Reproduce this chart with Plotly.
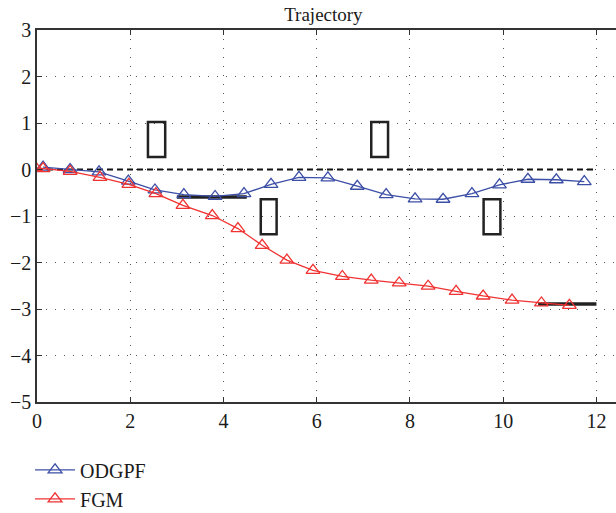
import plotly.graph_objects as go

# ---- data ----
odgpf_x = [0.13, 0.71, 1.33, 1.96, 2.53, 3.15, 3.82, 4.44, 5.02, 5.62, 6.24, 6.87, 7.49, 8.11, 8.71, 9.33, 9.92, 10.53, 11.14, 11.74]
odgpf_y = [0.05, 0.0, -0.05, -0.25, -0.44, -0.54, -0.58, -0.52, -0.32, -0.17, -0.18, -0.36, -0.54, -0.63, -0.64, -0.52, -0.33, -0.21, -0.22, -0.26]

fgm_x = [-0.03, 0.13, 0.71, 1.35, 1.97, 2.55, 3.13, 3.76, 4.31, 4.83, 5.36, 5.92, 6.55, 7.17, 7.77, 8.39, 8.99, 9.57, 10.19, 10.82, 11.42]
fgm_y = [0.04, 0.02, -0.04, -0.17, -0.32, -0.52, -0.77, -0.99, -1.27, -1.63, -1.95, -2.17, -2.30, -2.38, -2.44, -2.51, -2.62, -2.72, -2.81, -2.87, -2.92]

ref_x = [0, 12]
ref_y = [0, 0]

# horizontal black bars: (x0, x1, y)
bars = [(3.0, 4.5, -0.59), (10.75, 12.0, -2.89)]
# obstacles (rectangles): (x0, x1, y0, y1)
obstacles = [(2.38, 2.75, 0.27, 1.02), (7.17, 7.53, 0.27, 1.02),
             (4.80, 5.14, -1.39, -0.64), (9.58, 9.94, -1.39, -0.64)]

xticks = [0, 2, 4, 6, 8, 10, 12]
yticks = [3, 2, 1, 0, -1, -2, -3, -4, -5]

BLUE = "#3c4fa6"
RED = "#f03232"
SERIF = "Liberation Serif"
TXT = "#1a1a1a"

fig = go.Figure()

fig.add_trace(go.Scatter(x=ref_x, y=ref_y, mode="lines",
                         line=dict(color="#111", width=2, dash="6px,4px"),
                         showlegend=False, hoverinfo="skip"))
for x0, x1, yv in bars:
    fig.add_trace(go.Scatter(x=[x0, x1], y=[yv, yv], mode="lines",
                             line=dict(color="#222", width=3.5),
                             showlegend=False, hoverinfo="skip"))

fig.add_trace(go.Scatter(x=odgpf_x, y=odgpf_y, mode="lines+markers", name="ODGPF",
                         line=dict(color=BLUE, width=1.3),
                         marker=dict(symbol="triangle-up-open", size=12, color=BLUE,
                                     line=dict(width=1.3, color=BLUE))))
fig.add_trace(go.Scatter(x=fgm_x, y=fgm_y, mode="lines+markers", name="FGM",
                         line=dict(color=RED, width=1.3),
                         marker=dict(symbol="triangle-up-open", size=12, color=RED,
                                     line=dict(width=1.3, color=RED))))

for x0, x1, y0, y1 in obstacles:
    fig.add_shape(type="rect", x0=x0, x1=x1, y0=y0, y1=y1, xref="x", yref="y",
                  line=dict(color="#222", width=2.5), fillcolor="rgba(0,0,0,0)")

fig.update_layout(
    width=616, height=513,
    margin=dict(l=37, r=0, t=30, b=111, autoexpand=False),
    paper_bgcolor="white", plot_bgcolor="white",
    font=dict(family=SERIF, size=20, color=TXT),
    title=dict(text="Trajectory", x=0.525, xanchor="center", y=0.972, yanchor="middle",
               font=dict(family=SERIF, size=19, color=TXT)),
    showlegend=True,
    legend=dict(x=-0.012, xanchor="left", y=-0.13, yanchor="top",
                orientation="v", font=dict(family=SERIF, size=20, color=TXT),
                itemwidth=40, tracegroupgap=0, bgcolor="rgba(0,0,0,0)"),
    xaxis=dict(range=[0, 12.42], tickvals=xticks, ticktext=[str(v) for v in xticks],
               showline=True, linecolor="#333", linewidth=1.5, mirror="ticks",
               ticks="inside", ticklen=5, tickcolor="#333",
               showgrid=True, gridcolor="#555", gridwidth=1, griddash="1px,8px",
               zeroline=False, tickfont=dict(family=SERIF, size=20, color=TXT)),
    yaxis=dict(range=[-5, 3], tickvals=yticks,
               ticktext=[str(v).replace("-", "\u2212") for v in yticks],
               showline=True, linecolor="#333", linewidth=1.5, mirror=False,
               ticks="inside", ticklen=5, tickcolor="#333",
               showgrid=True, gridcolor="#555", gridwidth=1, griddash="1px,8px",
               zeroline=False, tickfont=dict(family=SERIF, size=20, color=TXT)),
)

fig.write_html("out.html")
